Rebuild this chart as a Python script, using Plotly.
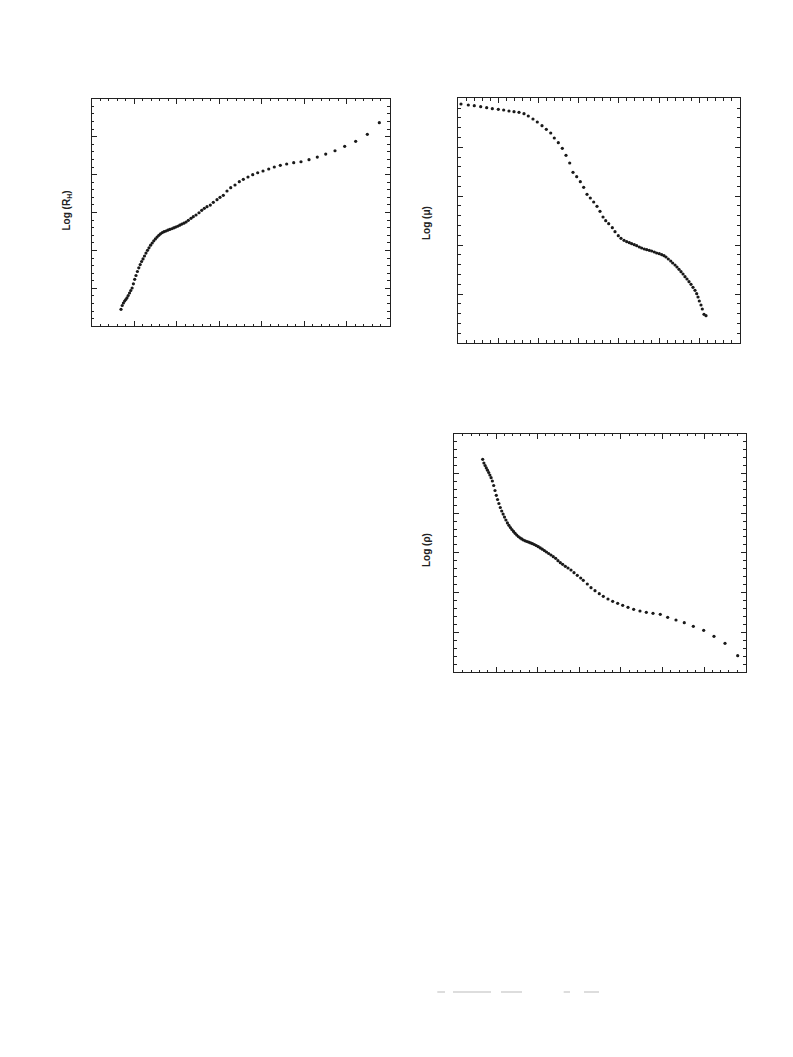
import plotly.graph_objects as go

# Panel 1: Log(R_H) vs x (arbitrary units, major tick = 1)
rh_x = [0.693, 0.721, 0.749, 0.778, 0.806, 0.834, 0.862, 0.893, 0.923, 0.954,
        0.984, 1.015, 1.045, 1.078, 1.111, 1.144, 1.177, 1.210, 1.245, 1.280,
        1.316, 1.351, 1.388, 1.426, 1.463, 1.501, 1.541, 1.581, 1.621, 1.663,
        1.705, 1.748, 1.792, 1.837, 1.882, 1.929, 1.976, 2.023, 2.072, 2.121,
        2.171, 2.222, 2.274, 2.337, 2.391, 2.455, 2.525, 2.589, 2.650, 2.713,
        2.791, 2.861, 2.948, 3.019, 3.096, 3.183, 3.270, 3.371, 3.472, 3.566,
        3.676, 3.787, 3.904, 4.029, 4.163, 4.294, 4.435, 4.585, 4.750, 4.921,
        5.109, 5.304, 5.502, 5.720, 5.948, 6.206, 6.479, 6.761]
rh_y = [0.447, 0.547, 0.613, 0.666, 0.705, 0.750, 0.811, 0.877, 0.943, 1.009,
        1.119, 1.238, 1.338, 1.444, 1.541, 1.626, 1.708, 1.776, 1.853, 1.929,
        2.003, 2.069, 2.137, 2.195, 2.253, 2.303, 2.351, 2.398, 2.438, 2.470,
        2.493, 2.512, 2.533, 2.554, 2.572, 2.594, 2.615, 2.638, 2.667, 2.694,
        2.718, 2.749, 2.794, 2.847, 2.889, 2.934, 2.994, 3.058, 3.110, 3.153,
        3.197, 3.269, 3.337, 3.401, 3.453, 3.567, 3.654, 3.725, 3.812, 3.875,
        3.936, 3.997, 4.049, 4.094, 4.147, 4.200, 4.244, 4.279, 4.313, 4.339,
        4.392, 4.463, 4.542, 4.629, 4.745, 4.877, 5.062, 5.368]

# Panel 2: Log(mu)
mu_x = [0.072, 0.254, 0.403, 0.562, 0.711, 0.851, 1.000, 1.134, 1.266, 1.391,
        1.515, 1.639, 1.746, 1.863, 1.970, 2.087, 2.194, 2.304, 2.393, 2.493,
        2.592, 2.684, 2.776, 2.858, 2.950, 3.040, 3.124, 3.207, 3.289, 3.373,
        3.455, 3.530, 3.605, 3.672, 3.746, 3.836, 3.903, 3.985, 4.052, 4.127,
        4.194, 4.259, 4.318, 4.383, 4.443, 4.508, 4.567, 4.632, 4.692, 4.756,
        4.816, 4.881, 4.940, 5.005, 5.065, 5.122, 5.172, 5.229, 5.289, 5.338,
        5.396, 5.445, 5.495, 5.545, 5.595, 5.644, 5.694, 5.744, 5.794, 5.843,
        5.893, 5.935, 5.968, 6.000, 6.042, 6.075, 6.117, 6.167]
mu_y = [4.885, 4.865, 4.851, 4.830, 4.810, 4.789, 4.777, 4.763, 4.742, 4.728,
        4.716, 4.687, 4.640, 4.579, 4.517, 4.442, 4.368, 4.292, 4.190, 4.094,
        3.980, 3.836, 3.679, 3.489, 3.399, 3.297, 3.182, 3.039, 2.963, 2.881,
        2.793, 2.691, 2.575, 2.499, 2.438, 2.356, 2.274, 2.192, 2.139, 2.098,
        2.070, 2.049, 2.029, 2.008, 1.988, 1.961, 1.941, 1.920, 1.906, 1.894,
        1.879, 1.859, 1.838, 1.824, 1.804, 1.783, 1.757, 1.716, 1.675, 1.634,
        1.593, 1.552, 1.505, 1.456, 1.409, 1.354, 1.307, 1.252, 1.198, 1.137,
        1.076, 1.006, 0.939, 0.857, 0.775, 0.693, 0.585, 0.556]

# Panel 3: Log(rho)
rho_x = [0.680, 0.709, 0.738, 0.767, 0.796, 0.825, 0.853, 0.882, 0.913, 0.945,
         0.976, 1.007, 1.038, 1.070, 1.103, 1.137, 1.171, 1.204, 1.238, 1.274,
         1.310, 1.346, 1.382, 1.421, 1.459, 1.498, 1.536, 1.577, 1.618, 1.659,
         1.702, 1.745, 1.788, 1.832, 1.877, 1.923, 1.969, 2.017, 2.065, 2.113,
         2.163, 2.214, 2.267, 2.322, 2.377, 2.435, 2.490, 2.546, 2.603, 2.666,
         2.731, 2.803, 2.875, 2.954, 3.036, 3.098, 3.195, 3.284, 3.380, 3.483,
         3.579, 3.692, 3.805, 3.925, 4.046, 4.173, 4.310, 4.461, 4.613, 4.774,
         4.949, 5.127, 5.327, 5.526, 5.743, 5.993, 6.240, 6.505, 6.810]
rho_y = [5.353, 5.260, 5.197, 5.137, 5.079, 5.021, 4.958, 4.890, 4.808, 4.694,
         4.568, 4.448, 4.342, 4.241, 4.141, 4.053, 3.975, 3.899, 3.826, 3.753,
         3.693, 3.638, 3.587, 3.540, 3.492, 3.449, 3.411, 3.379, 3.351, 3.323,
         3.303, 3.286, 3.268, 3.250, 3.230, 3.207, 3.182, 3.155, 3.124, 3.092,
         3.057, 3.021, 2.984, 2.946, 2.903, 2.863, 2.802, 2.752, 2.712, 2.662,
         2.619, 2.569, 2.501, 2.435, 2.367, 2.309, 2.216, 2.123, 2.048, 1.972,
         1.907, 1.839, 1.781, 1.731, 1.680, 1.630, 1.580, 1.537, 1.504, 1.479,
         1.454, 1.379, 1.311, 1.243, 1.152, 1.052, 0.901, 0.725, 0.413]

labels = ["Log (R<sub>H</sub>)", "Log (\u03bc)", "Log (\u03c1)"]

OFF = 8  # page body margin
W, H = 793 - 2 * OFF, 1057 - 2 * OFF
fig = go.Figure()

marker = dict(size=3.2, color="#1a1a1a", symbol="circle")
fig.add_trace(go.Scatter(x=rh_x, y=rh_y, mode="markers", marker=marker, xaxis="x", yaxis="y"))
fig.add_trace(go.Scatter(x=mu_x, y=mu_y, mode="markers", marker=marker, xaxis="x2", yaxis="y2"))
fig.add_trace(go.Scatter(x=rho_x, y=rho_y, mode="markers", marker=marker, xaxis="x3", yaxis="y3"))


def px_dom(a, b, total, flip=False):
    a, b = a - OFF, b - OFF
    if flip:
        return [1 - b / total, 1 - a / total]
    return [a / total, b / total]


def ax(domain, rng, anchor):
    return dict(domain=domain, range=rng, anchor=anchor, showline=True, linecolor="#222",
                linewidth=1, mirror="ticks", ticks="inside", ticklen=5, tickwidth=1,
                tickcolor="#222", dtick=1, tick0=0, showticklabels=False, showgrid=False,
                zeroline=False, fixedrange=True,
                minor=dict(ticks="inside", ticklen=2.5, tickwidth=1, tickcolor="#222",
                           dtick=0.2, showgrid=False))


fig.update_layout(
    width=W, height=H, autosize=False,
    margin=dict(l=0, r=0, t=0, b=0),
    paper_bgcolor="white", plot_bgcolor="white",
    showlegend=False,
    font=dict(family="Liberation Sans, Arial, sans-serif", color="#222"),
    xaxis=ax(px_dom(91.5, 389.5, W), [0, 7], "y"),
    yaxis=ax(px_dom(98.75, 326.25, H, True), [0, 6], "x"),
    xaxis2=ax(px_dom(458.1, 739.5, W), [0, 7], "y2"),
    yaxis2=ax(px_dom(98.4, 342.9, H, True), [0, 5], "x2"),
    xaxis3=ax(px_dom(454.4, 745.6, W), [0, 7], "y3"),
    yaxis3=ax(px_dom(433.6, 672.1, H, True), [0, 6], "x3"),
)

label_pos = [(66.5, 211), (426, 223), (426, 550)]
for txt, (lx, ly) in zip(labels, label_pos):
    fig.add_annotation(text="<b>" + txt + "</b>", x=(lx - OFF) / W, y=1 - (ly - OFF) / H,
                       xref="paper", yref="paper", showarrow=False, textangle=-90,
                       font=dict(size=10, color="#222"), xanchor="center", yanchor="middle")

# faint footer marks at the bottom of the page
for a, b in [(437.3, 445), (453, 491), (501, 522), (563.7, 570), (584, 599)]:
    fig.add_shape(type="line", xref="paper", yref="paper", x0=(a - OFF) / W, x1=(b - OFF) / W,
                  y0=1 - (992 - OFF) / H, y1=1 - (992 - OFF) / H,
                  line=dict(color="#bbbbbb", width=1))

fig.write_html("out.html")
